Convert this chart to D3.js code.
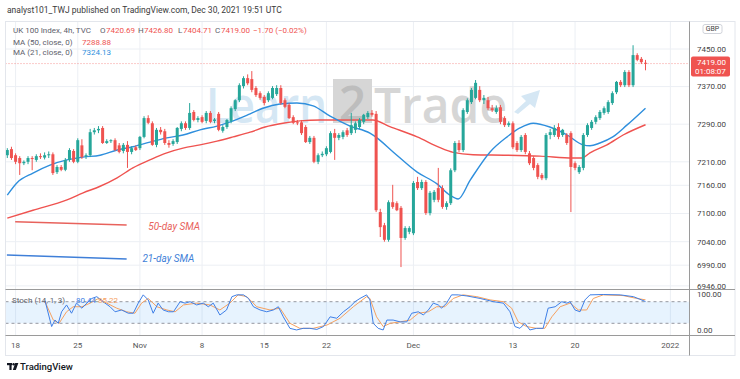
<!DOCTYPE html>
<html>
<head>
<meta charset="utf-8">
<script src="https://cdn.jsdelivr.net/npm/d3@7"></script>
<style>
  body { margin: 0; background: #fff; }
  svg { display: block; font-family: Roboto, "DejaVu Sans", sans-serif; }
</style>
</head>
<body>
<svg id="chart" width="740" height="379"></svg>
<script>
// 4h candles, [open, high, low, close]
var candles = [
[7224,7239,7218,7235],[7237,7242,7214,7218],[7224,7228,7205,7210],[7218,7222,7182,7207],
[7207,7213,7203,7210],[7210,7222,7205,7218],[7218,7222,7192,7216],[7214,7226,7210,7222],
[7222,7228,7216,7220],[7219,7230,7215,7224],[7224,7232,7218,7226],[7226,7230,7182,7186],
[7188,7203,7184,7199],[7199,7203,7190,7193],[7193,7218,7190,7214],[7214,7239,7210,7235],
[7233,7237,7207,7210],[7210,7260,7207,7256],[7245,7258,7216,7220],[7222,7228,7216,7224],
[7224,7280,7220,7273],[7273,7282,7268,7277],[7277,7286,7271,7280],[7282,7286,7248,7250],
[7250,7258,7248,7254],[7254,7258,7250,7256],[7256,7260,7233,7235],[7245,7250,7228,7231],
[7233,7250,7228,7246],[7246,7254,7197,7231],[7231,7243,7226,7239],[7241,7245,7233,7235],
[7239,7265,7235,7263],[7263,7307,7260,7303],[7303,7309,7290,7293],[7292,7296,7244,7246],
[7246,7282,7241,7278],[7278,7284,7268,7273],[7275,7280,7246,7250],[7250,7256,7240,7246],
[7248,7258,7244,7254],[7252,7284,7248,7282],[7280,7296,7275,7292],[7292,7296,7278,7282],
[7282,7335,7278,7314],[7316,7320,7296,7299],[7299,7307,7294,7303],[7305,7309,7292,7295],
[7297,7318,7292,7314],[7314,7318,7292,7295],[7297,7303,7292,7300],[7312,7316,7275,7278],
[7276,7288,7272,7284],[7284,7301,7280,7299],[7297,7328,7292,7324],[7322,7343,7318,7341],
[7341,7377,7337,7373],[7371,7392,7366,7388],[7388,7396,7373,7377],[7386,7403,7358,7363],
[7367,7371,7348,7352],[7356,7360,7342,7346],[7348,7352,7330,7335],[7341,7360,7337,7356],
[7346,7371,7343,7367],[7354,7373,7350,7367],[7367,7373,7331,7335],[7341,7345,7324,7327],
[7331,7335,7301,7303],[7305,7309,7290,7293],[7294,7299,7288,7293],[7294,7299,7267,7271],
[7284,7288,7250,7252],[7252,7265,7248,7261],[7261,7265,7207,7210],[7210,7228,7205,7224],
[7224,7232,7220,7227],[7226,7243,7222,7239],[7231,7275,7228,7271],[7271,7280,7214,7261],
[7261,7271,7256,7267],[7263,7277,7258,7273],[7277,7282,7263,7267],[7271,7314,7267,7288],
[7278,7296,7271,7292],[7284,7303,7280,7299],[7295,7312,7290,7310],[7305,7318,7301,7314],
[7314,7320,7306,7310],[7312,7318,7103,7107],[7103,7110,7050,7071],[7075,7080,7040,7044],
[7044,7128,7040,7124],[7124,7161,7110,7114],[7122,7126,7105,7107],[7112,7116,6986,7048],
[7048,7073,7044,7069],[7061,7073,7056,7069],[7058,7169,7054,7165],[7167,7178,7150,7154],
[7154,7172,7150,7167],[7167,7171,7097,7101],[7101,7148,7096,7144],[7129,7150,7124,7146],
[7154,7197,7124,7129],[7154,7160,7110,7114],[7114,7126,7108,7122],[7122,7196,7118,7192],
[7192,7254,7188,7250],[7250,7256,7231,7235],[7235,7324,7231,7320],[7316,7345,7312,7341],
[7337,7367,7333,7363],[7346,7384,7343,7378],[7363,7371,7337,7341],[7341,7352,7333,7346],
[7341,7348,7320,7324],[7324,7331,7316,7320],[7316,7330,7312,7324],[7326,7331,7290,7295],
[7303,7307,7284,7288],[7288,7296,7284,7292],[7292,7296,7237,7241],[7250,7254,7231,7235],
[7235,7267,7231,7263],[7267,7271,7226,7231],[7228,7233,7203,7207],[7218,7222,7192,7197],
[7203,7207,7173,7178],[7182,7186,7171,7175],[7175,7271,7171,7267],[7267,7280,7258,7273],
[7267,7288,7263,7282],[7284,7292,7258,7263],[7267,7280,7263,7278],[7267,7271,7246,7250],
[7271,7275,7103,7199],[7207,7211,7192,7197],[7188,7203,7184,7199],[7197,7271,7192,7267],
[7267,7292,7263,7288],[7282,7299,7278,7295],[7295,7309,7290,7305],[7303,7320,7299,7316],
[7314,7328,7310,7324],[7316,7341,7312,7337],[7335,7360,7331,7356],[7358,7382,7354,7380],
[7380,7384,7369,7373],[7373,7405,7369,7401],[7401,7405,7369,7373],[7373,7458,7369,7437],
[7437,7441,7424,7427],[7429,7433,7418,7422],[7420.69,7426.8,7404.71,7419]
];

// moving averages, [bar index, value]
var ma50 = [[0,7090],[6.2,7107],[14.4,7129],[18.3,7144],[22.4,7158],[26.5,7176],[30.3,7197],
  [34.4,7214],[38.5,7229],[42.4,7239],[46.5,7246],[50.6,7254],[54.5,7263],[58.6,7273],
  [62.2,7284],[66.5,7292],[70.6,7297],[75.5,7299],[82.7,7299],[88.2,7299],[92.3,7285],
  [98.9,7263],[104.4,7240],[107.6,7230],[112.4,7225],[120.6,7224],[128.5,7222],[136.5,7218],
  [138.7,7218],[140.6,7229],[144.7,7246],[148.6,7267],[154,7288.88]];
var ma21 = [[0,7139],[2.3,7165],[6.2,7186],[10.3,7203],[14.4,7214],[18.3,7220],[22.4,7224],
  [26.5,7235],[30.3,7242],[34.4,7252],[38.5,7261],[42.4,7267],[46.5,7278],[50.6,7286],
  [54.5,7297],[58.6,7312],[61.7,7324],[65.8,7333],[69.9,7335],[73.8,7329],[77.9,7307],
  [82.7,7286],[87.5,7271],[89.2,7261],[93.1,7231],[98.9,7188],[103.7,7163],[106.8,7139],
  [108.8,7131],[111.7,7171],[116.5,7231],[120.6,7263],[123.7,7282],[126.9,7292],[130.9,7284],
  [135.1,7267],[138.9,7246],[140.6,7244],[143,7250],[146.1,7263],[149.5,7288],[154,7324.13]];

// stochastic (14, 1, 3), [bar index, value]
var stochK = [[9.1,83],[10.7,11],[11.5,29],[12.3,20],[13.1,52],[14.3,71],[15.5,48],[16.7,76],
  [18,62],[19.2,76],[20.4,89],[21.6,94],[23.1,80],[24.8,66],[26,52],[27.6,57],[29.2,48],
  [30.4,48],[31.6,76],[32.8,99],[34,85],[35.2,48],[36.4,76],[37.6,57],[38.9,52],[40.1,52],
  [41.7,80],[42.9,76],[44.1,80],[45.7,71],[47.3,76],[48.5,66],[49.7,76],[51.3,43],[52.9,57],
  [54.2,94],[55.4,99],[57,99],[58.2,89],[59.4,66],[61,57],[62.6,52],[64.2,57],[65.4,66],
  [66.6,38],[68.2,6],[69.8,1.5],[71.4,6],[73,6],[74.7,3],[76.3,11],[77.9,38],[79.5,34],
  [81.1,52],[82.7,66],[83.9,80],[85.1,89],[86.7,99],[87.5,85],[88.3,20],[89.5,6],[90.7,1.5],
  [91.6,29],[93.1,29],[94.8,24],[96.4,24],[97.6,48],[99.2,52],[100.4,43],[101.6,57],[102.8,76],
  [104,71],[104.8,62],[106,76],[107.2,99],[108.8,99],[110.9,96],[114.1,89],[117.3,80],
  [119.7,76],[121.3,52],[122.5,11],[123.7,6],[124.9,20],[126.1,1.5],[127.7,6],[129.3,6],
  [130.5,62],[132.2,66],[133.8,80],[135,76],[135.8,80],[137,57],[138.2,52],[139.4,85],
  [140.6,99],[143.8,100],[147.9,99],[151.1,94],[154,80.44]];
var stochD = [[9.1,80],[11.1,29],[12.5,20],[14.3,52],[15.9,66],[18,66],[20,76],[22,89],[24,76],
  [26.4,62],[28.8,52],[30.8,48],[32.4,76],[34,89],[36.1,66],[38.5,57],[40.5,52],[42.5,71],
  [45.7,76],[48.9,71],[51.3,57],[53.7,76],[55.7,99],[57.8,94],[60.2,66],[63.4,57],[65.8,62],
  [68.2,20],[70.6,6],[73.8,6],[77.1,15],[80.3,34],[83.5,66],[86.7,94],[87.5,89],[89.1,38],
  [90.7,11],[92.4,20],[94.8,24],[97.2,29],[99.2,48],[101.6,52],[103.6,66],[105.6,66],
  [107.6,89],[110,99],[113.3,94],[116.5,85],[119.7,80],[121.7,62],[123.3,24],[125.3,11],
  [127.7,6],[129.7,6],[131.4,38],[133.4,66],[135.8,76],[137.8,57],[139.8,57],[141.4,89],
  [143.8,99],[148.6,97],[151.9,89],[154,85.22]];

var priceTicks = [7450, 7370, 7290, 7210, 7160, 7100, 7040, 6990, 6946];
var timeTickIdx = [2, 17, 32, 47, 62, 77, 98, 122, 137, 160];
var timeTickLabels = ["18", "25", "Nov", "8", "15", "22", "Dec", "13", "20", "2022"];
var stochLevels = [80, 20];

// hand-drawn notes on the chart: [start idx, start price, end idx, end price, text idx, text price]
var notes = [
  {label: "50-day SMA", color: "#e8625c", pts: [1.9, 7082.5, 28.8, 7075.5, 34, 7072]},
  {label: "21-day SMA", color: "#3f7fd8", pts: [-0.1, 7011.6, 28.8, 7003, 32.6, 7004]}
];

var up = "#26a69a", down = "#ef5350";
var left = 5.5, right = 689.5, mainTop = 21.5, mainBot = 289.5, stochBot = 335.5, axisBot = 355.5;

var svg = d3.select("#chart");
var x = d3.scaleLinear().domain([0, 154]).range([7.3, 645.5]);
var y = d3.scaleLinear().domain([6990, 7450]).range([265.2, 49]);
var ys = d3.scaleLinear().domain([0, 100]).range([330.5, 294.5]);

var defs = svg.append("defs");
defs.append("clipPath").attr("id", "clipMain").append("rect")
  .attr("x", left).attr("y", mainTop).attr("width", right - left).attr("height", mainBot - mainTop);
defs.append("clipPath").attr("id", "clipStoch").append("rect")
  .attr("x", left).attr("y", mainBot).attr("width", right - left).attr("height", stochBot - mainBot);
defs.append("clipPath").attr("id", "clipAxis").append("rect")
  .attr("x", right).attr("y", mainTop).attr("width", 50).attr("height", mainBot - mainTop);

// grid
svg.append("g").selectAll("line").data(timeTickIdx).enter().append("line")
  .attr("x1", function(d) { return x(d); }).attr("x2", function(d) { return x(d); })
  .attr("y1", mainTop).attr("y2", stochBot)
  .attr("stroke", "#eceff4");
svg.append("g").attr("clip-path", "url(#clipMain)").selectAll("line").data(priceTicks).enter().append("line")
  .attr("x1", left).attr("x2", right)
  .attr("y1", function(d) { return y(d); }).attr("y2", function(d) { return y(d); })
  .attr("stroke", "#eceff4");

// watermark
var wm = svg.append("g").attr("font-family", "'Open Sans', sans-serif").attr("font-weight", 600).attr("font-size", 48);
wm.append("text").attr("x", 206).attr("y", 123).attr("textLength", 121).attr("lengthAdjust", "spacingAndGlyphs")
  .attr("fill", "#d5e7f4").text("Learn");
wm.append("rect").attr("x", 333).attr("y", 79).attr("width", 39).attr("height", 44).attr("fill", "#d6d6d6");
wm.append("text").attr("x", 352.5).attr("y", 121).attr("text-anchor", "middle").attr("fill", "#bdbdbd").text("2");
wm.append("text").attr("x", 374).attr("y", 123).attr("textLength", 133).attr("lengthAdjust", "spacingAndGlyphs")
  .attr("fill", "#d6d6d6").text("Trade");
wm.append("path").attr("d", "M514,112 L526,101 L521,96 L540,90 L535,108 L530,104 L518,114 Z").attr("fill", "#d5e7f4");

// last price line
svg.append("line").attr("x1", left).attr("x2", right)
  .attr("y1", y(7419)).attr("y2", y(7419))
  .attr("stroke", down).attr("stroke-opacity", 0.6).attr("stroke-dasharray", "1,2");

var main = svg.append("g").attr("clip-path", "url(#clipMain)");

// moving averages
var maLine = d3.line().x(function(d) { return x(d[0]); }).y(function(d) { return y(d[1]); }).curve(d3.curveMonotoneX);
main.append("path").datum(ma50).attr("d", maLine).attr("fill", "none").attr("stroke", "#ef5350").attr("stroke-width", 1.4);
main.append("path").datum(ma21).attr("d", maLine).attr("fill", "none").attr("stroke", "#2f8fdd").attr("stroke-width", 1.4);

// candles
var cg = main.append("g").selectAll("g").data(candles).enter().append("g");
cg.append("line")
  .attr("x1", function(d, i) { return x(i); }).attr("x2", function(d, i) { return x(i); })
  .attr("y1", function(d) { return y(d[1]); }).attr("y2", function(d) { return y(d[2]); })
  .attr("stroke", function(d) { return d[3] >= d[0] ? up : down; });
cg.append("rect")
  .attr("x", function(d, i) { return x(i) - 1.5; })
  .attr("width", 3)
  .attr("y", function(d) { return y(Math.max(d[0], d[3])); })
  .attr("height", function(d) { return Math.max(1, Math.abs(y(d[0]) - y(d[3]))); })
  .attr("fill", function(d) { return d[3] >= d[0] ? up : down; });

// notes
notes.forEach(function(n) {
  var p = n.pts;
  main.append("line").attr("x1", x(p[0])).attr("y1", y(p[1])).attr("x2", x(p[2])).attr("y2", y(p[3]))
    .attr("stroke", n.color).attr("stroke-width", 1.5);
  main.append("text").attr("x", x(p[4])).attr("y", y(p[5])).attr("dy", "0.35em")
    .attr("font-size", 10).attr("font-style", "italic").attr("fill", n.color).text(n.label);
});

// stochastic pane
var st = svg.append("g").attr("clip-path", "url(#clipStoch)");
st.append("rect").attr("x", left).attr("width", right - left)
  .attr("y", ys(80)).attr("height", ys(20) - ys(80)).attr("fill", "rgba(33,150,243,0.11)");
st.selectAll("line.lvl").data(stochLevels).enter().append("line")
  .attr("x1", left).attr("x2", right)
  .attr("y1", function(d) { return ys(d); }).attr("y2", function(d) { return ys(d); })
  .attr("stroke", "#9598a1").attr("stroke-dasharray", "3,3");
var sLine = d3.line().x(function(d) { return x(d[0]); }).y(function(d) { return ys(d[1]); });
st.append("path").datum(stochD).attr("d", sLine).attr("fill", "none").attr("stroke", "#f5a05f").attr("stroke-width", 1);
st.append("path").datum(stochK).attr("d", sLine).attr("fill", "none").attr("stroke", "#3f7fe6").attr("stroke-width", 1);

// frame
svg.append("rect").attr("x", left).attr("y", mainTop).attr("width", 735 - left).attr("height", axisBot - mainTop)
  .attr("fill", "none").attr("stroke", "#e3e6ec");
svg.append("line").attr("x1", left).attr("x2", 735).attr("y1", mainBot).attr("y2", mainBot).attr("stroke", "#9a9a9a");
svg.append("line").attr("x1", left).attr("x2", 735).attr("y1", stochBot).attr("y2", stochBot).attr("stroke", "#9a9a9a");
svg.append("line").attr("x1", right).attr("x2", right).attr("y1", mainTop).attr("y2", axisBot).attr("stroke", "#9a9a9a");

// price axis
svg.append("g").attr("clip-path", "url(#clipAxis)").selectAll("text").data(priceTicks).enter().append("text")
  .attr("x", 697).attr("y", function(d) { return y(d); }).attr("dy", "0.35em")
  .attr("font-size", 8).attr("fill", "#444").text(function(d) { return d.toFixed(2); });
svg.append("text").attr("x", 697).attr("y", ys(100)).attr("dy", "0.35em").attr("font-size", 8).attr("fill", "#444").text("100.00");
svg.append("text").attr("x", 697).attr("y", ys(0)).attr("dy", "0.35em").attr("font-size", 8).attr("fill", "#444").text("0.00");
svg.append("rect").attr("x", 703).attr("y", 24.5).attr("width", 19).attr("height", 9).attr("rx", 2)
  .attr("fill", "#fff").attr("stroke", "#d0d3da");
svg.append("text").attr("x", 712.5).attr("y", 29).attr("dy", "0.35em").attr("text-anchor", "middle")
  .attr("font-size", 7).attr("fill", "#444").text("GBP");

// last price badge
svg.append("rect").attr("x", 691).attr("y", y(7419) - 7).attr("width", 39).attr("height", 20).attr("rx", 2).attr("fill", down);
svg.append("text").attr("x", 697).attr("y", y(7419) - 1).attr("dy", "0.35em").attr("font-size", 8).attr("fill", "#fff").text("7419.00");
svg.append("text").attr("x", 695).attr("y", y(7419) + 8).attr("dy", "0.35em").attr("font-size", 8).attr("fill", "#fff").text("01:08:07");

// time axis
svg.append("g").selectAll("text").data(timeTickIdx).enter().append("text")
  .attr("x", function(d) { return x(d); }).attr("y", 345.5).attr("dy", "0.35em")
  .attr("text-anchor", "middle").attr("font-size", 8).attr("fill", "#555")
  .text(function(d, i) { return timeTickLabels[i]; });

// header and legends
svg.append("text").attr("x", 7).attr("y", 10).attr("dy", "0.35em").attr("font-size", 8.5).attr("fill", "#3a3a3a")
  .text("analyst101_TWJ published on TradingView.com, Dec 30, 2021 19:51 UTC");

var leg = svg.append("g").attr("font-size", 8).attr("fill", "#555");
function legendLine(yy, parts) {
  parts.forEach(function(p) {
    leg.append("text").attr("x", p[0]).attr("y", yy).attr("dy", "0.35em").attr("fill", p[2]).text(p[1]);
  });
}
var gray = "#5d606b", red = "#ef5350";
legendLine(30, [[13, "UK 100 Index, 4h, TVC", gray], [100, "O", gray], [106, "7420.69", red],
  [138, "H", gray], [144, "7426.80", red], [178, "L", gray], [183, "7404.71", red],
  [215, "C", gray], [221, "7419.00", red], [253, "\u22121.70 (\u22120.02%)", red]]);
legendLine(42.5, [[13, "MA (50, close, 0)", gray], [82, "7288.88", red]]);
legendLine(52.5, [[13, "MA (21, close, 0)", gray], [82, "7324.13", "#2f8fdd"]]);
legendLine(300, [[12, "Stoch (14, 1, 3)", gray], [76, "80.44", "#3f7fe6"], [98, "85.22", "#f5a05f"]]);

// footer logo
var logo = svg.append("g").attr("fill", "#131722");
logo.append("rect").attr("x", 7).attr("y", 363).attr("width", 5).attr("height", 2.2);
logo.append("rect").attr("x", 9.4).attr("y", 363).attr("width", 2.2).attr("height", 7);
logo.append("circle").attr("cx", 13.6).attr("cy", 364.3).attr("r", 1.2);
logo.append("path").attr("d", "M15.2,363 L18.4,363 L15.8,370 L12.8,370 Z");
svg.append("text").attr("x", 20).attr("y", 367).attr("dy", "0.35em").attr("font-size", 9.5)
  .attr("font-weight", 500).attr("fill", "#131722").text("TradingView");
</script>
</body>
</html>
